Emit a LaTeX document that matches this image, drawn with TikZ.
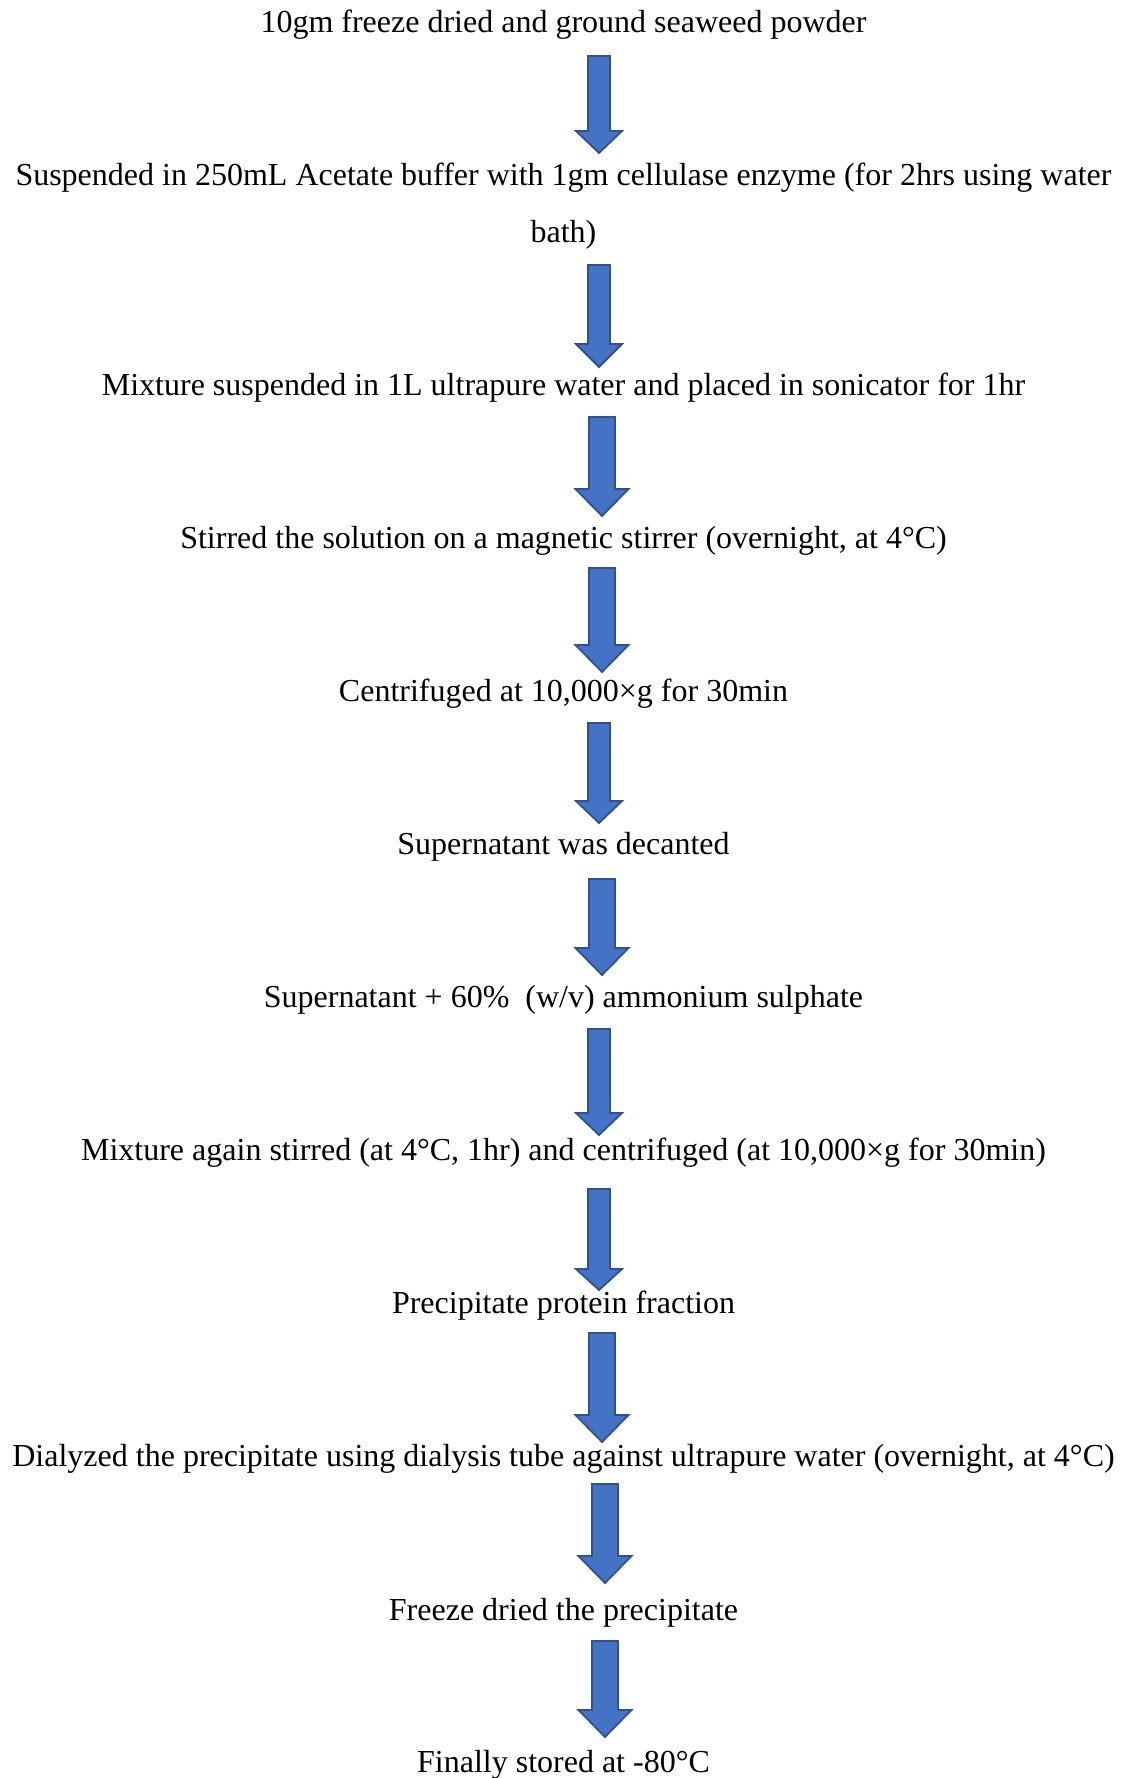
\documentclass[tikz,border=0pt]{standalone}
\usepackage{fontspec}
\setmainfont{Liberation Serif}
\usetikzlibrary{calc}

\definecolor{arrowblue}{HTML}{4472C4}
\definecolor{arrowedge}{HTML}{2F528F}

% Block arrow: #1 top, #2 tip, #3 shaft half-width, #4 head half-width, #5 head length
\newcommand\blockarrow[5]{%
  \filldraw[blockstyle]
    ($(#1)+(-#3,0)$) -- ($(#1)+(#3,0)$) -- ($(#2)+(#3,-#5)$) --
    ($(#2)+(#4,-#5)$) -- (#2) -- ($(#2)+(-#4,-#5)$) --
    ($(#2)+(-#3,-#5)$) -- cycle;}

\begin{document}
\begin{tikzpicture}[x=0.5pt,y=-0.5pt,
  steptext/.style={anchor=base, inner sep=0pt,
    font=\fontsize{16}{19}\selectfont},
  blockstyle/.style={fill=arrowblue, draw=arrowedge, line width=0.9pt,
    line join=miter}]

  \fill[white] (0,0) rectangle (1127,1778);
  \useasboundingbox (0,0) rectangle (1127,1778);

  % process steps
  \node[steptext] (s1)  at (563.5,32)   {10gm freeze dried and ground seaweed powder};
  \node[steptext] (s2)  at (563.5,185)  {Suspended in 250mL Acetate buffer with 1gm cellulase enzyme (for 2hrs using water};
  \node[steptext] (s2b) at (563.5,242)  {bath)};
  \node[steptext] (s3)  at (563.5,395)  {Mixture suspended in 1L ultrapure water and placed in sonicator for 1hr};
  \node[steptext] (s4)  at (563.5,548)  {Stirred the solution on a magnetic stirrer (overnight, at 4°C)};
  \node[steptext] (s5)  at (563.5,701)  {Centrifuged at 10,000×g for 30min};
  \node[steptext] (s6)  at (563.5,854)  {Supernatant was decanted};
  \node[steptext] (s7)  at (563.5,1007) {Supernatant + 60\%\ \ (w/v) ammonium sulphate};
  \node[steptext] (s8)  at (563.5,1160) {Mixture again stirred (at 4°C, 1hr) and centrifuged (at 10,000×g for 30min)};
  \node[steptext] (s9)  at (563.5,1313) {Precipitate protein fraction};
  \node[steptext] (s10) at (563.5,1466) {Dialyzed the precipitate using dialysis tube against ultrapure water (overnight, at 4°C)};
  \node[steptext] (s11) at (563.5,1620) {Freeze dried the precipitate};
  \node[steptext] (s12) at (563.5,1772) {Finally stored at -80°C};

  % arrow ends
  \coordinate (a1t)  at (599,56);    \coordinate (a1b)  at (599,153);
  \coordinate (a2t)  at (599,265);   \coordinate (a2b)  at (599,367);
  \coordinate (a3t)  at (602,417);   \coordinate (a3b)  at (602,516);
  \coordinate (a4t)  at (602,568);   \coordinate (a4b)  at (602,672);
  \coordinate (a5t)  at (599,723);   \coordinate (a5b)  at (599,823);
  \coordinate (a6t)  at (602,879);   \coordinate (a6b)  at (602,975);
  \coordinate (a7t)  at (599,1029);  \coordinate (a7b)  at (599,1135);
  \coordinate (a8t)  at (599,1189);  \coordinate (a8b)  at (599,1290);
  \coordinate (a9t)  at (602,1333);  \coordinate (a9b)  at (602,1442);
  \coordinate (a10t) at (605,1484);  \coordinate (a10b) at (605,1583);
  \coordinate (a11t) at (605,1641);  \coordinate (a11b) at (605,1737);

  % connecting block arrows
  \blockarrow{a1t}{a1b}{11}{23}{22}
  \blockarrow{a2t}{a2b}{11}{23}{23}
  \blockarrow{a3t}{a3b}{13}{26.5}{27}
  \blockarrow{a4t}{a4b}{13}{26.5}{27}
  \blockarrow{a5t}{a5b}{11}{23}{22}
  \blockarrow{a6t}{a6b}{13}{26.5}{27}
  \blockarrow{a7t}{a7b}{11}{23}{22}
  \blockarrow{a8t}{a8b}{11}{23}{21}
  \blockarrow{a9t}{a9b}{13}{26.5}{27}
  \blockarrow{a10t}{a10b}{13}{26.5}{27}
  \blockarrow{a11t}{a11b}{13}{26.5}{27}
\end{tikzpicture}
\end{document}
